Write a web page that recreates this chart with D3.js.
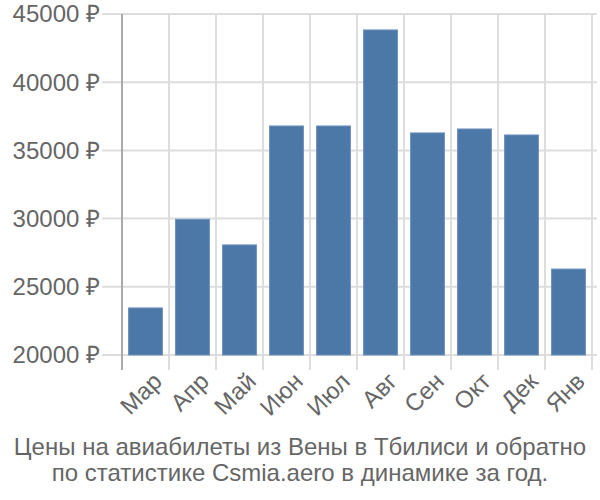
<!DOCTYPE html>
<html>
<head>
<meta charset="utf-8">
<script src="https://cdn.jsdelivr.net/npm/d3@7"></script>
<style>
  body { margin: 0; background: #fff; }
  text { font-family: "Liberation Sans", Arial, sans-serif; fill: #666; }
</style>
</head>
<body>
<svg id="chart" width="600" height="500"></svg>
<script>
// months and average prices (rub)
var months = ["Мар", "Апр", "Май", "Июн", "Июл", "Авг", "Сен", "Окт", "Дек", "Янв"];
var prices = [23450, 29950, 28070, 36790, 36790, 43830, 36280, 36570, 36130, 26300];
var yTicks = [20000, 25000, 30000, 35000, 40000, 45000];
var titleLines = ["Цены на авиабилеты из Вены в Тбилиси и обратно",
                  "по статистике Csmia.aero в динамике за год."];

var svg = d3.select("#chart");
var plotL = 122, plotR = 592, plotT = 14, plotB = 355;

var x = d3.scaleBand().domain(months).range([plotL, plotR]).paddingInner(0.28).paddingOuter(0.14);
var y = d3.scaleLinear().domain([20000, 45000]).range([plotB, plotT]);

// horizontal grid
svg.append("g").selectAll("line").data(yTicks).enter().append("line")
    .attr("x1", 102).attr("x2", 597)
    .attr("y1", function (d) { return y(d); }).attr("y2", function (d) { return y(d); })
    .attr("stroke", "#ddd").attr("stroke-width", 2);

// vertical grid at band boundaries
var step = x.step();
var bounds = months.map(function (m, i) { return plotL + step * (i + 1); });
svg.append("g").selectAll("line").data(bounds).enter().append("line")
    .attr("x1", function (d) { return d; }).attr("x2", function (d) { return d; })
    .attr("y1", plotT).attr("y2", plotB + 15)
    .attr("stroke", "#ddd").attr("stroke-width", 2);

// bars
svg.append("g").selectAll("rect").data(prices).enter().append("rect")
    .attr("x", function (d, i) { return x(months[i]); })
    .attr("width", x.bandwidth())
    .attr("y", function (d) { return y(d); })
    .attr("height", function (d) { return plotB - y(d); })
    .attr("fill", "#4c78a8")
    .attr("stroke", "#6d90bb").attr("stroke-width", 1);

// y axis line
svg.append("line").attr("x1", plotL).attr("x2", plotL)
    .attr("y1", plotT).attr("y2", plotB + 15)
    .attr("stroke", "#aaa").attr("stroke-width", 2);

// y labels
svg.append("g").selectAll("text").data(yTicks).enter().append("text")
    .attr("x", 100).attr("y", function (d) { return y(d); })
    .attr("dy", "0.35em").attr("text-anchor", "end")
    .style("font-size", "24px")
    .text(function (d) { return d + " ₽"; });

// x labels
svg.append("g").selectAll("text").data(months).enter().append("text")
    .attr("transform", function (d) {
        var cx = x(d) + x.bandwidth() / 2 + 6;
        return "translate(" + cx + "," + (plotB + 16) + ") rotate(-45)";
    })
    .attr("text-anchor", "end").attr("dy", "0.7em")
    .style("font-size", "24px")
    .text(function (d) { return d; });

// title
svg.append("g").selectAll("text").data(titleLines).enter().append("text")
    .attr("x", 300).attr("y", function (d, i) { return 455 + i * 26; })
    .attr("text-anchor", "middle")
    .style("font-size", "24px")
    .text(function (d) { return d; });
</script>
</body>
</html>
